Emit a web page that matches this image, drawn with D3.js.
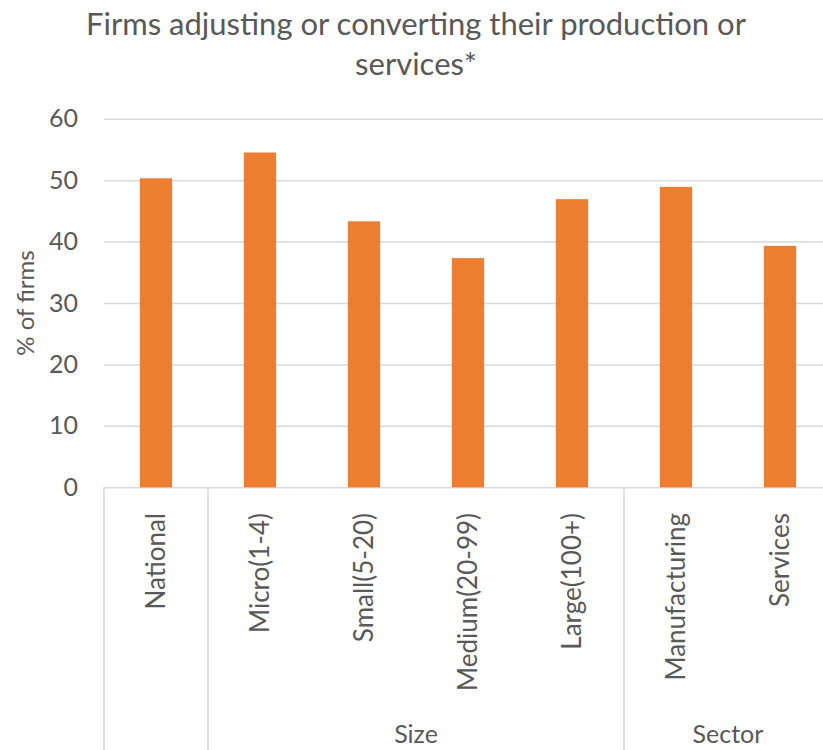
<!DOCTYPE html>
<html>
<head>
<meta charset="utf-8">
<script src="https://cdn.jsdelivr.net/npm/d3@7/dist/d3.min.js"></script>
<style>
  html, body { margin: 0; padding: 0; background: #fff; }
  svg { display: block; }
  text { font-family: Lato, "Open Sans", sans-serif; fill: #595959; }
</style>
</head>
<body>
<svg id="chart" width="823" height="750"></svg>
<script>
const categories = ["National", "Micro(1-4)", "Small(5-20)", "Medium(20-99)", "Large(100+)", "Manufacturing", "Services"];
const values = [50.3, 54.5, 43.3, 37.3, 46.9, 48.9, 39.3];
const groups = [
  { name: "", start: 0, end: 0 },
  { name: "Size", start: 1, end: 4 },
  { name: "Sector", start: 5, end: 6 }
];
const yTicks = [0, 10, 20, 30, 40, 50, 60];
const titleLines = ["Firms adjusting or converting their production or", "services*"];
const yAxisTitle = "% of firms";

(function () {
const svg = d3.select("#chart");
const W = 823, H = 750;
const pLeft = 104, pRight = 832, pTop = 118.7, pBottom = 487.3;

const x = d3.scaleBand().domain(categories).range([pLeft, pRight]).paddingInner(0.69).paddingOuter(0.345);
const y = d3.scaleLinear().domain([0, 60]).range([pBottom, pTop]);

// Title
svg.append("g").selectAll("text").data(titleLines).join("text")
  .attr("x", 416).attr("y", (d, i) => 35 + i * 40)
  .attr("text-anchor", "middle")
  .style("font-size", "31px")
  .text(d => d);

// Gridlines + y tick labels
const yAxis = d3.axisLeft(y).tickValues(yTicks).tickSize(-(pRight - pLeft)).tickPadding(26).tickFormat(d3.format("d"));
const gy = svg.append("g").attr("transform", `translate(${pLeft},0)`).call(yAxis);
gy.select(".domain").remove();
gy.selectAll(".tick line").attr("stroke", "#d9d9d9").attr("stroke-width", 1.5);
gy.selectAll(".tick text").style("font-size", "25px").style("font-family", "Lato, 'Open Sans', sans-serif").attr("fill", "#595959");

// Bars
svg.append("g").selectAll("rect").data(values).join("rect")
  .attr("x", (d, i) => x(categories[i]))
  .attr("y", d => y(d))
  .attr("width", x.bandwidth())
  .attr("height", d => y(0) - y(d))
  .attr("fill", "#ED7D31");

// Separators for multi-level axis
const bandEdge = i => x(categories[i]) - x.paddingInner() * x.step() / 2;
const sepX = [pLeft];
groups.forEach(g => sepX.push(bandEdge(g.end) + x.step()));
svg.append("g").selectAll("line").data(sepX).join("line")
  .attr("x1", d => d).attr("x2", d => d)
  .attr("y1", pBottom).attr("y2", H)
  .attr("stroke", "#d9d9d9").attr("stroke-width", 1.5);

// Category labels (rotated)
svg.append("g").selectAll("text").data(categories).join("text")
  .attr("transform", d => `translate(${x(d) + x.bandwidth() / 2},513) rotate(-90)`)
  .attr("text-anchor", "end")
  .attr("dy", "0.35em")
  .style("font-size", "26px")
  .text(d => d);

// Group labels
svg.append("g").selectAll("text").data(groups.filter(g => g.name)).join("text")
  .attr("x", g => (bandEdge(g.start) + bandEdge(g.end) + x.step()) / 2)
  .attr("y", 743)
  .attr("text-anchor", "middle")
  .style("font-size", "25px")
  .text(g => g.name);

// Y axis title
svg.append("text")
  .attr("transform", `translate(34,${(pTop + pBottom) / 2}) rotate(-90)`)
  .attr("text-anchor", "middle")
  .style("font-size", "24px")
  .text(yAxisTitle);
})();
</script>
</body>
</html>
